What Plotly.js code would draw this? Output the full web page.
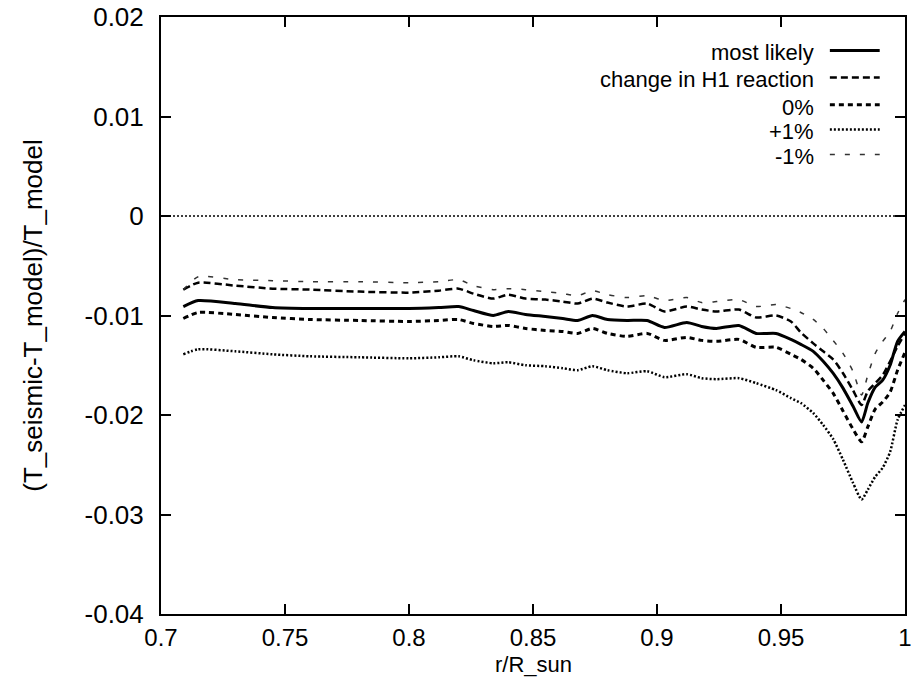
<!DOCTYPE html>
<html>
<head>
<meta charset="utf-8">
<script src="https://cdn.plot.ly/plotly-3.0.1.min.js"></script>
<style>html,body{margin:0;padding:0;background:#fff;}#chart{width:911px;height:680px;}</style>
</head>
<body>
<div id="chart"></div>
<script>
// r/R_sun sample points
const radius = [0.709, 0.715, 0.73, 0.745, 0.76, 0.78, 0.80, 0.812, 0.82, 0.826, 0.834, 0.84, 0.847, 0.855, 0.862, 0.868, 0.874, 0.88, 0.888, 0.896, 0.903, 0.912, 0.918, 0.924, 0.933, 0.940, 0.948, 0.954, 0.958, 0.963, 0.967, 0.971, 0.975, 0.979, 0.9825, 0.985, 0.988, 0.991, 0.994, 0.997, 1.0];

const mostLikely = [-0.0091, -0.0085, -0.0088, -0.0092, -0.0093, -0.0093, -0.0093, -0.0092, -0.0091, -0.0095, -0.0100, -0.0096, -0.0099, -0.0101, -0.0103, -0.0105, -0.0100, -0.0104, -0.0105, -0.0105, -0.0112, -0.0107, -0.0111, -0.0113, -0.0110, -0.0118, -0.0118, -0.0124, -0.0129, -0.0136, -0.0146, -0.0158, -0.0173, -0.0191, -0.0207, -0.0188, -0.0172, -0.0165, -0.0150, -0.0126, -0.0116];

const changeH1 = [-0.0074, -0.0067, -0.0070, -0.0073, -0.0074, -0.0076, -0.0077, -0.0075, -0.0073, -0.0078, -0.0083, -0.0079, -0.0083, -0.0084, -0.0086, -0.0088, -0.0083, -0.0087, -0.0091, -0.0088, -0.0096, -0.0091, -0.0094, -0.0096, -0.0094, -0.0102, -0.0100, -0.0106, -0.0117, -0.0128, -0.0136, -0.0144, -0.0158, -0.0175, -0.0190, -0.0176, -0.0168, -0.0160, -0.0146, -0.0131, -0.0118];

const zeroPct = [-0.0103, -0.0097, -0.0099, -0.0102, -0.0104, -0.0105, -0.0106, -0.0105, -0.0104, -0.0108, -0.0111, -0.0110, -0.0113, -0.0115, -0.0116, -0.0118, -0.0113, -0.0118, -0.0121, -0.0118, -0.0125, -0.0122, -0.0125, -0.0126, -0.0124, -0.0132, -0.0132, -0.0139, -0.0144, -0.0153, -0.0165, -0.0178, -0.0196, -0.0214, -0.0227, -0.0212, -0.0194, -0.0187, -0.0177, -0.0155, -0.0137];

const plusOne = [-0.0139, -0.0134, -0.0136, -0.0139, -0.0141, -0.0142, -0.0143, -0.0142, -0.0141, -0.0145, -0.0148, -0.0147, -0.0150, -0.0151, -0.0153, -0.0155, -0.0151, -0.0155, -0.0158, -0.0156, -0.0162, -0.0159, -0.0163, -0.0164, -0.0163, -0.0168, -0.0175, -0.0183, -0.0188, -0.0198, -0.0210, -0.0224, -0.0245, -0.0268, -0.0285, -0.0275, -0.0262, -0.0253, -0.0237, -0.0205, -0.0190];

const minusOne = [-0.0074, -0.0061, -0.0064, -0.0065, -0.0066, -0.0066, -0.0067, -0.0066, -0.0064, -0.0070, -0.0074, -0.0073, -0.0074, -0.0076, -0.0078, -0.0080, -0.0075, -0.0079, -0.0082, -0.0080, -0.0085, -0.0082, -0.0087, -0.0086, -0.0084, -0.0091, -0.0089, -0.0093, -0.0097, -0.0104, -0.0113, -0.0125, -0.0138, -0.0156, -0.0180, -0.0160, -0.0138, -0.0126, -0.0116, -0.0098, -0.0084];

// zero reference line
const zeroLineX = [0.7, 1.0];
const zeroLineY = [0, 0];

const seriesNames = ["most likely", "change in H1 reaction", "0%", "+1%", "-1%"];
const xTitle = "r/R_sun";
const yTitle = "(T_seismic-T_model)/T_model";

const xTickVals = [0.7, 0.75, 0.8, 0.85, 0.9, 0.95, 1.0];
const xTickText = ["0.7", "0.75", "0.8", "0.85", "0.9", "0.95", "1"];
const yTickVals = [0.02, 0.01, 0, -0.01, -0.02, -0.03, -0.04];
const yTickText = ["0.02", "0.01", "0", "-0.01", "-0.02", "-0.03", "-0.04"];

const seriesData = [mostLikely, changeH1, zeroPct, plusOne, minusOne];
const lineStyles = [
  {color: "#000", width: 3, dash: "solid"},
  {color: "#000", width: 2.5, dash: "7px,4px"},
  {color: "#000", width: 3, dash: "5px,4px"},
  {color: "#000", width: 2.5, dash: "2px,2px"},
  {color: "#333", width: 1.5, dash: "5px,10px"}
];

const traces = [{
  x: zeroLineX, y: zeroLineY, mode: "lines", showlegend: false, hoverinfo: "skip",
  line: {color: "#000", width: 1.5, dash: "2px,2px"}
}];
seriesData.forEach((ys, i) => {
  traces.push({x: radius, y: ys, mode: "lines", name: seriesNames[i], showlegend: false,
    line: Object.assign({shape: "spline", smoothing: 0.6}, lineStyles[i])});
});

const font = {family: "Liberation Sans, Arial, sans-serif", size: 26, color: "#000"};

// gnuplot-style key: text right-aligned, then line sample
const keyRowsY = [0.9397, 0.8945, 0.8492, 0.8074, 0.7655];
const annotations = [];
const shapes = [];
seriesNames.forEach((n, i) => {
  annotations.push({xref: "paper", yref: "paper", x: 0.879, y: keyRowsY[i], xanchor: "right", yanchor: "middle",
    text: n, showarrow: false, borderpad: 0,
    font: {family: "Liberation Sans, Arial, sans-serif", size: 22, color: "#000"}});
  shapes.push({type: "line", xref: "paper", yref: "paper", x0: 0.899, x1: 0.966, y0: keyRowsY[i] + 0.004, y1: keyRowsY[i] + 0.004,
    line: lineStyles[i]});
});
// x-axis title placed just under the tick labels
annotations.push({xref: "paper", yref: "paper", x: 0.5, y: -0.085, xanchor: "center", yanchor: "middle",
  text: xTitle, showarrow: false, borderpad: 0, font: {family: font.family, size: 22, color: "#000"}});

const layout = {
  width: 911, height: 680,
  margin: {l: 161, r: 6, t: 17, b: 66},
  paper_bgcolor: "#fff", plot_bgcolor: "#fff",
  font: font,
  showlegend: false,
  xaxis: {
    range: [0.7, 1.0], tickvals: xTickVals, ticktext: xTickText,
    ticks: "inside", ticklen: 10, tickwidth: 2, tickcolor: "#000",
    showline: true, linecolor: "#000", linewidth: 2, mirror: "ticks",
    showgrid: false, zeroline: false, ticklabelstandoff: 1,
    ticklabeloverflow: "allow",
    tickfont: {family: font.family, size: 24, color: "#000"}
  },
  yaxis: {
    range: [-0.04, 0.02], tickvals: yTickVals, ticktext: yTickText,
    ticks: "inside", ticklen: 10, tickwidth: 2, tickcolor: "#000",
    showline: true, linecolor: "#000", linewidth: 2, mirror: "ticks",
    showgrid: false, zeroline: false, ticklabelstandoff: 10,
    tickfont: font,
    title: {text: yTitle, font: font, standoff: 34}
  },
  annotations: annotations,
  shapes: shapes
};

Plotly.newPlot("chart", traces, layout, {staticPlot: true, displayModeBar: false});
</script>
</body>
</html>
